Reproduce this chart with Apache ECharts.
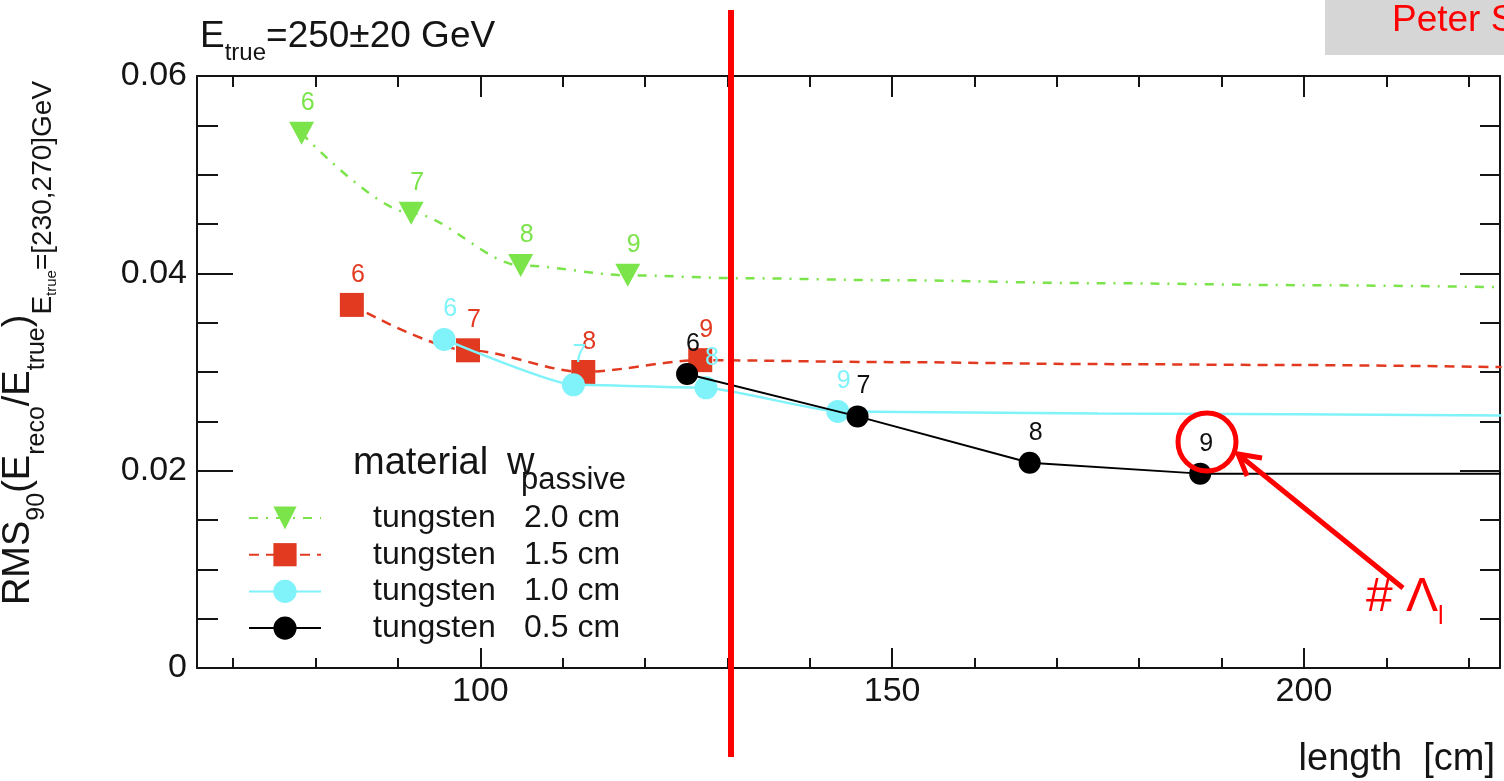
<!DOCTYPE html>
<html><head><meta charset="utf-8">
<script src="https://cdn.jsdelivr.net/npm/echarts@6/dist/echarts.min.js"></script>
<style>html,body{margin:0;padding:0;background:#fff}#c{width:1504px;height:781px}</style>
</head><body><div id="c"></div>
<script>
const FONT = "'Liberation Sans', Arial, Helvetica, sans-serif";
const INK = '#141414';

// legend / series identity
const materials = ['tungsten', 'tungsten', 'tungsten', 'tungsten'];
const passiveWidths = ['2.0 cm', '1.5 cm', '1.0 cm', '0.5 cm'];
const seriesColors = ['#7be44a', '#e23a20', '#80f2fa', '#000000'];
const layerLabels = ['6', '7', '8', '9'];   // number of interaction lengths

// measured points: length [cm] and RMS90(Ereco/Etrue)
const w20Length = [78.3, 91.6, 104.9, 117.9];
const w20Rms    = [0.0542, 0.0461, 0.0408, 0.0398];
const w15Length = [84.4, 98.5, 112.5, 126.7];
const w15Rms    = [0.0368, 0.0322, 0.0300, 0.0312];
const w10Length = [95.6, 111.3, 127.4, 143.4];
const w10Rms    = [0.0333, 0.0287, 0.0284, 0.0260];
const w05Length = [125.1, 145.8, 166.7, 187.4];
const w05Rms    = [0.0298, 0.0255, 0.0208, 0.0197];

// continuation of the fitted curves to the right edge
const w20FitLength = [132, 150, 175, 200, 224];
const w20FitRms    = [0.0395, 0.0393, 0.0390, 0.0388, 0.0386];
const w15FitLength = [150, 175, 200, 224];
const w15FitRms    = [0.0310, 0.0308, 0.0307, 0.0305];
const w10FitLength = [175, 224];
const w10FitRms    = [0.0258, 0.0256];
const w05FitLength = [205, 224];
const w05FitRms    = [0.0197, 0.0197];

// axes
const xMin = 65.6, xMax = 223.8;
const yMin = 0, yMax = 0.06, yStep = 0.02;

const names = materials.map((m, i) => m + ' ' + passiveWidths[i]);

function buildData(xs, ys, fx, fy) {
  const d = xs.map((x, i) => ({ value: [x, ys[i]], label: { show: true, formatter: layerLabels[i] } }));
  fx.forEach((x, i) => d.push({ value: [x, fy[i]], symbol: 'none', label: { show: false } }));
  return d;
}

const seriesDefs = [
  { xs: w20Length, ys: w20Rms, fx: w20FitLength, fy: w20FitRms, symbol: 'triangle', rot: 180, size: [25, 23], dash: [9, 8, 2, 8], lw: 2.5, smooth: 0.3 },
  { xs: w15Length, ys: w15Rms, fx: w15FitLength, fy: w15FitRms, symbol: 'rect', rot: 0, size: [24, 24], dash: [10, 7], lw: 2.5, smooth: 0.3 },
  { xs: w10Length, ys: w10Rms, fx: w10FitLength, fy: w10FitRms, symbol: 'circle', rot: 0, size: 23, dash: 'solid', lw: 2.5, smooth: 0.15 },
  { xs: w05Length, ys: w05Rms, fx: w05FitLength, fy: w05FitRms, symbol: 'circle', rot: 0, size: 22, dash: 'solid', lw: 2, smooth: false }
];

const series = seriesDefs.map((s, i) => ({
  name: names[i],
  type: 'line',
  data: buildData(s.xs, s.ys, s.fx, s.fy),
  symbol: s.symbol,
  symbolRotate: s.rot,
  symbolSize: s.size,
  showSymbol: true,
  smooth: s.smooth,
  smoothMonotone: 'x',
  clip: true,
  lineStyle: { color: seriesColors[i], width: s.lw, type: s.dash },
  itemStyle: { color: seriesColors[i] },
  label: { position: 'inside', offset: [6, -30], color: seriesColors[i] === '#000000' ? '#111' : seriesColors[i], fontSize: 25, fontFamily: FONT },
  emphasis: { disabled: true },
  z: 2 + i
}));

function axisCommon() {
  return {
    type: 'value',
    axisLine: { show: true, onZero: false, lineStyle: { color: INK, width: 2 } },
    splitLine: { show: false },
    minorSplitLine: { show: false }
  };
}

const option = {
  animation: false,
  backgroundColor: '#fff',
  title: {
    text: '{m|E}{s|true}{m|=250±20 GeV}',
    left: 195, top: 25,
    textStyle: {
      fontWeight: 'normal',
      rich: {
        m: { fontSize: 37, lineHeight: 37, fontFamily: FONT, fontWeight: 'normal', color: INK, verticalAlign: 'bottom', padding: [0, 0, 12, 0] },
        s: { fontSize: 24, lineHeight: 24, fontFamily: FONT, fontWeight: 'normal', color: INK, verticalAlign: 'bottom', padding: [0, 0, 2, 0] }
      }
    }
  },
  grid: { left: 197, top: 76, right: 4, bottom: 113, containLabel: false },
  legend: {
    orient: 'vertical', left: 248, top: 502, padding: 0,
    itemWidth: 72, itemHeight: 29, itemGap: 4.7,
    selectedMode: false,
    data: names,
    formatter: function (name) {
      const i = names.indexOf(name);
      return '{a|' + materials[i] + '}{b|' + passiveWidths[i] + '}';
    },
    textStyle: {
      rich: {
        a: { fontSize: 32, lineHeight: 29, fontFamily: FONT, color: INK, width: 151, padding: [0, 0, 0, 47] },
        b: { fontSize: 32, lineHeight: 29, fontFamily: FONT, color: INK }
      }
    }
  },
  xAxis: [
    Object.assign(axisCommon(), {
      position: 'bottom', min: xMin, max: xMax, splitNumber: 3,
      axisTick: { show: true, inside: true, length: 20, lineStyle: { color: INK, width: 2 } },
      minorTick: { show: true, splitNumber: 5, length: 10, lineStyle: { color: INK, width: 2 } },
      axisLabel: {
        show: true, margin: 7, fontSize: 34, color: INK, fontFamily: FONT,
        formatter: v => (Math.abs(v % 50) < 1e-6 ? String(Math.round(v)) : '')
      }
    }),
    Object.assign(axisCommon(), {
      position: 'top', min: xMin, max: xMax, splitNumber: 3,
      axisTick: { show: true, inside: true, length: 21, lineStyle: { color: INK, width: 2 } },
      minorTick: { show: true, splitNumber: 5, length: 11, lineStyle: { color: INK, width: 2 } },
      axisLabel: { show: false }
    })
  ],
  yAxis: [
    Object.assign(axisCommon(), {
      position: 'left', min: yMin, max: yMax, interval: yStep,
      axisTick: { show: true, inside: true, length: 36, lineStyle: { color: INK, width: 2 } },
      minorTick: { show: true, splitNumber: 4, length: 21, lineStyle: { color: INK, width: 2 } },
      axisLabel: { show: true, margin: 10, fontSize: 34, color: INK, fontFamily: FONT }
    }),
    Object.assign(axisCommon(), {
      position: 'right', min: yMin, max: yMax, interval: yStep,
      axisTick: { show: true, inside: true, length: 40, lineStyle: { color: INK, width: 2 } },
      minorTick: { show: true, splitNumber: 4, length: 20, lineStyle: { color: INK, width: 2 } },
      axisLabel: { show: false }
    })
  ],
  series: series,
  graphic: [
    // y-axis title
    {
      type: 'text', x: 40, y: 343, rotation: Math.PI / 2, z: 50,
      style: {
        text: '{m|RMS}{s|90}{m|(E}{s|reco}{m|/E}{s|true}{m|)}{e|E}{t|true}{e|=[230,270]GeV}',
        align: 'center', verticalAlign: 'middle',
        rich: {
          m: { fontSize: 38, lineHeight: 38, fontFamily: FONT, fill: INK, verticalAlign: 'bottom', padding: [0, 0, 21, 0] },
          s: { fontSize: 25, lineHeight: 25, fontFamily: FONT, fill: INK, verticalAlign: 'bottom', padding: [0, 0, 9, 0] },
          e: { fontSize: 28, lineHeight: 28, fontFamily: FONT, fill: INK, verticalAlign: 'bottom', padding: [0, 0, 2, 0] },
          t: { fontSize: 15, lineHeight: 15, fontFamily: FONT, fill: INK, verticalAlign: 'bottom', padding: [0, 0, 0, 0] }
        }
      }
    },
    // x-axis title
    {
      type: 'text', x: 1495, y: 760, z: 50,
      style: { text: 'length  [cm]', align: 'right', verticalAlign: 'middle', fontSize: 38, fontFamily: FONT, fill: INK }
    },
    // legend header
    {
      type: 'text', x: 353, y: 464, z: 50,
      style: { text: 'material', align: 'left', verticalAlign: 'middle', fontSize: 38, fontFamily: FONT, fill: INK }
    },
    {
      type: 'text', x: 507, y: 464, z: 50,
      style: { text: 'w', align: 'left', verticalAlign: 'middle', fontSize: 38, fontFamily: FONT, fill: INK }
    },
    {
      type: 'text', x: 521, y: 480, z: 50,
      style: { text: 'passive', align: 'left', verticalAlign: 'middle', fontSize: 31, fontFamily: FONT, fill: INK }
    },
    // red vertical marker line
    { type: 'line', z: 100, shape: { x1: 731, y1: 10, x2: 731, y2: 757 }, style: { stroke: '#ff0000', lineWidth: 6 } },
    // gray author box
    { type: 'rect', z: 100, shape: { x: 1325, y: 0, width: 190, height: 55 }, style: { fill: '#d6d6d6' } },
    { type: 'text', z: 101, x: 1392, y: 21, style: { text: 'Peter S', fontSize: 37, fontFamily: FONT, fill: '#ff0000', align: 'left', verticalAlign: 'middle' } },
    // circle around label 9
    { type: 'circle', z: 100, shape: { cx: 1207, cy: 442, r: 29 }, style: { fill: 'none', stroke: '#ff0000', lineWidth: 5 } },
    // arrow
    { type: 'line', z: 100, shape: { x1: 1403, y1: 588, x2: 1239, y2: 455 }, style: { stroke: '#ff0000', lineWidth: 5 } },
    { type: 'polyline', z: 100, shape: { points: [[1262, 458], [1238, 454], [1247, 476]] }, style: { stroke: '#ff0000', lineWidth: 5, fill: 'none' } },
    {
      type: 'text', z: 100, x: 1366, y: 582,
      style: {
        text: '{a|# Λ}{b|l}', align: 'left', verticalAlign: 'top',
        rich: {
          a: { fontSize: 48, lineHeight: 48, fontFamily: FONT, fill: '#ff0000', verticalAlign: 'bottom', padding: [0, 0, 8, 0] },
          b: { fontSize: 25, lineHeight: 25, fontFamily: FONT, fill: '#ff0000', verticalAlign: 'bottom' }
        }
      }
    }
  ]
};

const chart = echarts.init(document.getElementById('c'), null, { renderer: 'canvas' });
chart.setOption(option);
</script>
</body></html>
